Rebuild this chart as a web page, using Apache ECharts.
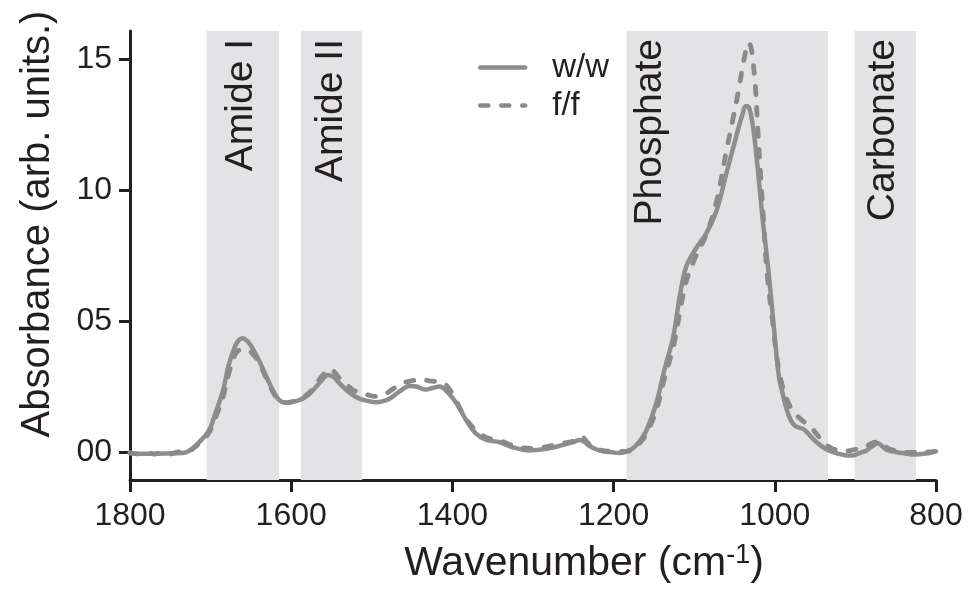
<!DOCTYPE html>
<html>
<head>
<meta charset="utf-8">
<script src="https://cdn.jsdelivr.net/npm/echarts@6/dist/echarts.min.js"></script>
<style>
  html, body { margin: 0; padding: 0; background: #ffffff; }
  #chart { width: 974px; height: 593px; }
</style>
</head>
<body>
<div id="chart"></div>
<script>
// ---- data ----
const wavenumberTicks = [1800, 1600, 1400, 1200, 1000, 800];
const absorbanceTicks = [0, 5, 10, 15];

const bandNames = ['Amide I', 'Amide II', 'Phosphate', 'Carbonate'];
const bandFrom = [1705, 1588, 1184, 901];
const bandTo = [1615, 1512, 934, 825];

const seriesNames = ['w/w', 'f/f'];

// [wavenumber (cm-1), absorbance]
const spectrumWW = [
  [1800, -0.05], [1780, -0.07], [1760, -0.06], [1745, -0.05], [1731, -0.02],
  [1722, 0.15], [1714, 0.38], [1705, 0.68], [1700, 0.95], [1694, 1.48],
  [1685, 2.30], [1677, 3.38], [1669, 4.08], [1664, 4.30], [1660, 4.34],
  [1655, 4.25], [1650, 4.06], [1640, 3.50], [1627, 2.62], [1618, 2.10],
  [1612, 1.92], [1605, 1.88], [1597, 1.92], [1590, 1.98], [1582, 2.10],
  [1574, 2.32], [1563, 2.70], [1554, 2.94], [1547, 2.85], [1540, 2.62],
  [1532, 2.38], [1524, 2.18], [1515, 2.03], [1505, 1.95], [1495, 1.90],
  [1487, 1.93], [1478, 2.03], [1466, 2.30], [1453, 2.52], [1445, 2.50],
  [1433, 2.38], [1424, 2.45], [1416, 2.50], [1406, 2.28], [1395, 1.86],
  [1383, 1.22], [1371, 0.71], [1358, 0.46], [1342, 0.38], [1325, 0.18],
  [1304, 0.06], [1284, 0.12], [1265, 0.25], [1250, 0.38], [1242, 0.46],
  [1236, 0.38], [1230, 0.23], [1217, 0.05], [1205, 0.00], [1193, -0.04],
  [1185, 0.00], [1176, 0.14], [1168, 0.40], [1159, 0.84], [1147, 1.86],
  [1137, 3.13], [1126, 4.40], [1118, 5.93], [1110, 7.07], [1099, 7.71],
  [1085, 8.35], [1072, 9.24], [1060, 10.64], [1048, 12.03], [1040, 12.90],
  [1036, 13.21], [1032, 13.15], [1027, 12.42], [1021, 10.76], [1015, 8.85],
  [1008, 6.95], [1002, 5.04], [995, 2.90], [990, 2.20], [985, 1.60],
  [980, 1.20], [975, 1.00], [970, 0.93], [965, 0.88], [960, 0.75],
  [950, 0.42], [940, 0.18], [930, 0.02], [920, -0.08], [910, -0.13],
  [903, -0.13], [895, -0.04], [886, 0.06], [880, 0.20], [872, 0.33],
  [866, 0.20], [861, 0.08], [850, 0.00], [840, -0.05], [826, -0.10],
  [815, -0.07], [803, 0.00]
];

const spectrumFF = [
  [1800, -0.03], [1790, -0.08], [1780, -0.02], [1770, -0.08], [1760, -0.03],
  [1750, -0.08], [1740, 0.00], [1731, -0.02], [1722, 0.12], [1714, 0.33],
  [1705, 0.60], [1700, 0.85], [1694, 1.30], [1685, 2.05], [1677, 3.05],
  [1669, 3.75], [1664, 3.90], [1660, 3.93], [1655, 3.90], [1650, 3.82],
  [1640, 3.40], [1627, 2.55], [1618, 2.05], [1612, 1.92], [1605, 1.88],
  [1597, 1.94], [1590, 2.00], [1582, 2.15], [1574, 2.38], [1563, 2.85],
  [1555, 3.12], [1551, 3.16], [1545, 3.00], [1540, 2.82], [1532, 2.60],
  [1524, 2.38], [1515, 2.25], [1505, 2.18], [1495, 2.12], [1484, 2.20],
  [1475, 2.38], [1462, 2.62], [1450, 2.72], [1439, 2.76], [1425, 2.70],
  [1412, 2.65], [1405, 2.45], [1398, 2.11], [1385, 1.35], [1375, 0.95],
  [1366, 0.71], [1355, 0.52], [1342, 0.45], [1330, 0.30], [1317, 0.18],
  [1300, 0.14], [1288, 0.18], [1275, 0.25], [1263, 0.33], [1250, 0.42],
  [1240, 0.58], [1232, 0.35], [1225, 0.15], [1217, 0.08], [1205, 0.03],
  [1193, 0.02], [1185, 0.02], [1176, 0.10], [1168, 0.32], [1160, 0.65],
  [1147, 1.60], [1137, 2.80], [1126, 4.00], [1118, 5.30], [1110, 6.50],
  [1099, 7.40], [1085, 8.30], [1072, 9.60], [1060, 11.50], [1052, 12.70],
  [1045, 13.80], [1040, 14.70], [1036, 15.30], [1033, 15.62], [1030, 15.50],
  [1027, 14.90], [1024, 13.90], [1021, 12.30], [1018, 10.76], [1014, 8.85],
  [1010, 6.95], [1003, 5.04], [995, 3.13], [985, 2.00], [975, 1.48],
  [965, 1.18], [956, 0.97], [948, 0.68], [940, 0.39], [930, 0.15],
  [920, 0.05], [913, 0.03], [900, 0.10], [888, 0.20], [878, 0.35],
  [870, 0.39], [860, 0.15], [845, 0.01], [830, -0.02], [812, 0.00],
  [800, 0.02]
];

// ---- styling ----
const FONT = '"Liberation Sans", Arial, Helvetica, sans-serif';
const INK = '#231f20';
const SOLID_GREY = '#8e8e8e';
const DASH_GREY = '#8a8a8a';
const BAND_GREY = '#e3e3e5';
const Y_MIN = -1.07;
const Y_MAX = 16.07;

// horizontal placement of each band's caption inside its shaded area
const captionAnchor = ['48%', '49%', '12%', '47%'];

const bandAreas = bandNames.map((name, i) => [
  {
    name: name,
    xAxis: bandFrom[i],
    yAxis: Y_MIN,
    label: { position: [captionAnchor[i], 8] }
  },
  { xAxis: bandTo[i], yAxis: 16.2 }
]);

const chart = echarts.init(document.getElementById('chart'), null, { renderer: 'canvas' });

const option = {
  animation: false,
  backgroundColor: '#ffffff',
  textStyle: { fontFamily: FONT, color: INK },
  grid: { left: 130, right: 38, top: 31, bottom: 113, containLabel: false },
  legend: {
    orient: 'vertical',
    left: 478,
    top: 51,
    padding: 0,
    itemGap: 5,
    itemWidth: 45,
    itemHeight: 14,
    data: seriesNames,
    itemStyle: { opacity: 0 },
    lineStyle: { width: 4.5 },
    textStyle: {
      fontFamily: FONT, fontSize: 33, color: INK,
      padding: [0, 0, 0, 22]
    }
  },
  xAxis: {
    type: 'value',
    inverse: true,
    min: 800,
    max: 1800,
    interval: 200,
    axisLine: { show: true, onZero: false, lineStyle: { color: INK, width: 3 } },
    axisTick: { show: true, length: 12, lineStyle: { color: INK, width: 3 } },
    axisLabel: {
      margin: 20, fontSize: 32, color: INK, fontFamily: FONT,
      customValues: wavenumberTicks,
      formatter: v => String(v)
    },
    splitLine: { show: false }
  },
  yAxis: {
    type: 'value',
    min: Y_MIN,
    max: Y_MAX,
    axisLine: { show: true, onZero: false, lineStyle: { color: INK, width: 3 } },
    axisTick: {
      show: true, length: 11, customValues: absorbanceTicks,
      lineStyle: { color: INK, width: 3 }
    },
    axisLabel: {
      margin: 18, fontSize: 32, color: INK, fontFamily: FONT,
      customValues: absorbanceTicks,
      formatter: v => String(Math.round(v)).padStart(2, '0')
    },
    splitLine: { show: false }
  },
  series: [
    {
      name: seriesNames[0],
      type: 'line',
      data: spectrumWW,
      smooth: 0.35,
      symbol: 'none',
      clip: false,
      lineStyle: { color: SOLID_GREY, width: 4.5, cap: 'round', join: 'round' },
      itemStyle: { color: SOLID_GREY },
      z: 3,
      markArea: {
        silent: true,
        itemStyle: { color: BAND_GREY, borderWidth: 0 },
        label: {
          show: true,
          rotate: 90,
          align: 'right',
          verticalAlign: 'middle',
          fontSize: 39,
          fontFamily: FONT,
          color: INK
        },
        data: bandAreas,
        z: 1
      }
    },
    {
      name: seriesNames[1],
      type: 'line',
      data: spectrumFF,
      smooth: 0.35,
      symbol: 'none',
      clip: false,
      lineStyle: {
        color: DASH_GREY, width: 4.8, type: [8, 13], cap: 'round', join: 'round'
      },
      itemStyle: { color: DASH_GREY },
      z: 4
    }
  ],
  graphic: [
    {
      type: 'text',
      x: 38, y: 224,
      rotation: Math.PI / 2,
      style: {
        text: 'Absorbance (arb. units.)',
        x: 0, y: 0,
        align: 'center', verticalAlign: 'middle',
        font: '40px ' + FONT,
        fill: INK
      }
    },
    {
      type: 'text',
      x: 584, y: 564,
      style: {
        text: '{t|Wavenumber (cm}{s|-1}{t|)}',
        x: 0, y: 0,
        align: 'center', verticalAlign: 'middle',
        rich: {
          t: { fontSize: 41, fontFamily: FONT, fill: INK, color: INK, lineHeight: 44 },
          s: { fontSize: 27, fontFamily: FONT, fill: INK, color: INK, verticalAlign: 'top', lineHeight: 44 }
        }
      }
    }
  ]
};

chart.setOption(option);
</script>
</body>
</html>
